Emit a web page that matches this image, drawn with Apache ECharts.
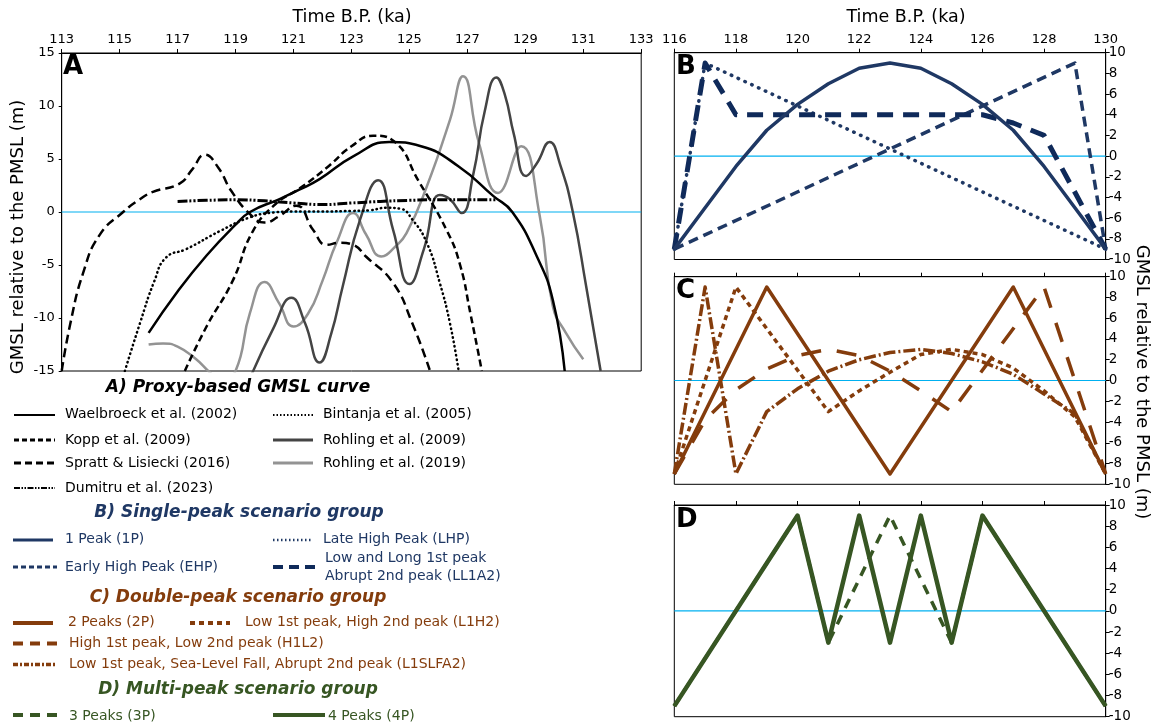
<!DOCTYPE html>
<html><head><meta charset="utf-8">
<script src="https://cdn.jsdelivr.net/npm/echarts@6/dist/echarts.min.js"></script>
<style>html,body{margin:0;padding:0;background:#fff}#c{width:1156px;height:726px}</style>
</head><body><div id="c"></div>
<script>
// ---------------- DATA ----------------
// Panel A: proxy-based GMSL curves  [time (ka B.P.), GMSL (m)]
const waelbroeck2002 = [[116,-11.4],[117,-7.5],[118,-4.1],[119,-1.2],[119.5,0],[120.5,1.2],[121.2,2.1],[121.9,3.1],[123.06,5.25],[124.3,6.6],[125.4,6.2],[126.7,4.3],[127.9,1.5],[128.55,0],[129.4,-4.2],[129.95,-8.3],[130.36,-15]];
const bintanja2005 = [[115.18,-15],[115.7,-10.5],[116.2,-6.5],[116.6,-4.3],[117.3,-3.5],[118.46,-1.8],[119.5,-0.5],[120.3,-0.05],[121,0.05],[122,0.05],[123,0.1],[123.6,0.15],[124.2,0.4],[124.7,0.3],[125.1,-0.7],[125.6,-2.9],[126.05,-6.7],[126.4,-10.5],[126.7,-15]];
const kopp2009 = [[117.25,-15],[118.0,-10.8],[118.9,-6.5],[119.6,-1.8],[120.4,0.8],[121.2,2.2],[122.2,4.3],[123.0,6.2],[123.75,7.2],[124.5,6.6],[125.3,3.0],[126.3,-1.8],[126.75,-5],[127.1,-9.5],[127.5,-15]];
const spratt2016 = [[113,-15],[113.3,-10.5],[113.74,-5.75],[114.3,-2.2],[115.12,0],[115.7,1.2],[116.15,1.9],[117.08,2.7],[117.5,4.0],[117.94,5.4],[118.4,4.2],[118.85,2.0],[119.5,-0.2],[120.0,-1.0],[120.5,-0.4],[121.1,0.6],[121.68,-1.7],[122.14,-3.1],[122.6,-2.9],[123.06,-3.1],[123.5,-4.2],[124.44,-6.7],[125.1,-10.5],[125.7,-14.9]];
const rohling2009 = [[119.45,-16],[120.3,-11],[120.93,-8.1],[121.4,-10.5],[121.9,-14.2],[122.3,-11.5],[122.7,-7],[123.3,-0.7],[123.92,3.0],[124.44,-1.7],[125.0,-6.8],[125.5,-3.5],[126.05,1.6],[126.4,1.2],[126.8,-0.1],[127.2,3.5],[127.6,9.5],[128.0,12.7],[128.3,11],[128.6,7.4],[129.03,3.4],[129.4,4.6],[129.84,6.6],[130.2,4.5],[130.64,0],[131.1,-7],[131.6,-15]];
const rohling2019 = [[116,-12.5],[116.5,-12.4],[117,-12.7],[117.6,-13.8],[118.1,-15.1],[118.5,-16],[119.0,-15],[119.5,-9.5],[120.0,-6.6],[120.5,-8.6],[121.0,-10.8],[121.5,-9.6],[122.0,-6.5],[122.5,-2.8],[123.06,-0.1],[123.5,-2.1],[124.03,-4.2],[124.5,-3.3],[124.9,-2.0],[125.6,2.4],[126.4,8.7],[126.85,12.8],[127.4,6.5],[128.06,1.8],[128.86,6.2],[129.5,-0.4],[129.95,-8.9],[130.4,-11.4],[131.0,-13.9]];
const dumitru2023 = [[117,1.0],[118,1.1],[119,1.15],[120,1.05],[121,0.85],[122,0.7],[123,0.85],[124,1.0],[125,1.1],[126,1.15],[127,1.15],[128,1.15]];

// Panel B: single-peak scenarios
const onePeak = [[116,-9],[117,-5],[118,-1],[119,2.5],[120,5],[121,7],[122,8.5],[123,9],[124,8.5],[125,7],[126,5],[127,2.5],[128,-1],[129,-5],[130,-9]];
const lateHighPeak = [[116,-9],[117,9],[130,-9]];
const earlyHighPeak = [[116,-9],[129,9],[130,-9]];
const ll1a2 = [[116,-9],[117,9],[118,4],[126,4],[127,3.2],[128,2],[129,-3.5],[130,-9]];

// Panel C: double-peak scenarios
const twoPeaks = [[116,-9],[119,9],[123,-9],[127,9],[130,-9]];
const l1h2 = [[116,-9],[118,9],[119,5],[120,1],[121,-3],[122,-1],[123,0.8],[124,2.5],[125,3],[126,2.5],[127,1.2],[128,-1],[129,-3.5],[130,-9]];
const h1l2 = [[116,-9],[117,-3.8],[118,-0.9],[119,1.1],[120,2.4],[121,3],[122,2.4],[123,0.9],[124,-1],[125,-3],[128,9],[130,-9]];
const l1slfa2 = [[116,-9],[117,9],[118,-9],[119,-3],[120,-0.8],[121,0.9],[122,2.0],[123,2.7],[124,3],[125,2.6],[126,1.8],[127,0.6],[128,-1.3],[129,-3.2],[130,-9]];

// Panel D: multi-peak scenarios
const threePeaks = [[116,-9],[120,9],[121,-3],[123,9],[125,-3],[126,9],[130,-9]];
const fourPeaks = [[116,-9],[120,9],[121,-3],[122,9],[123,-3],[124,9],[125,-3],[126,9],[130,-9]];

// PMSL reference level (m)
const pmsl = 0;

// Axis settings
const axisA = {xmin:113, xmax:133, xstep:2, ymin:-15, ymax:15, ystep:5};
const axisBCD = {xmin:116, xmax:130, xstep:2, ymin:-10, ymax:10, ystep:2};

// Texts
const xTitle = 'Time B.P. (ka)';
const yTitle = 'GMSL relative to the PMSL (m)';
const panelLetters = ['A','B','C','D'];
const groupTitles = ['A) Proxy-based GMSL curve','B) Single-peak scenario group','C) Double-peak scenario group','D) Multi-peak scenario group'];

// ---------------- STYLES ----------------
const NAVY='#1f3864', BROWN='#843c0c', GREEN='#375623', ZERO='#00b0f0';
const FONT='"DejaVu Sans", Verdana, sans-serif';

const defs = [
  {name:'Rohling et al. (2019)', data:rohling2019, g:0, color:'#939393', width:2.5, type:'solid', smooth:0.5},
  {name:'Rohling et al. (2009)', data:rohling2009, g:0, color:'#444444', width:2.5, type:'solid', smooth:0.5},
  {name:'Bintanja et al. (2005)', data:bintanja2005, g:0, color:'#000', width:2.5, type:[0.5,4], cap:'round', smooth:0.5},
  {name:'Spratt & Lisiecki (2016)', data:spratt2016, g:0, color:'#000', width:2.5, type:[9,5], smooth:0.5},
  {name:'Kopp et al. (2009)', data:kopp2009, g:0, color:'#000', width:2.5, type:[7,4], smooth:0.5},
  {name:'Dumitru et al. (2023)', data:dumitru2023, g:0, color:'#000', width:3, type:[10,2,2,2,2,2], smooth:0.5},
  {name:'Waelbroeck et al. (2002)', data:waelbroeck2002, g:0, color:'#000', width:2.5, type:'solid', smooth:0.5},

  {name:'Early High Peak (EHP)', data:earlyHighPeak, g:1, color:NAVY, width:3.5, type:[10,6]},
  {name:'Late High Peak (LHP)', data:lateHighPeak, g:1, color:NAVY, width:3.5, type:[0.5,7], cap:'round'},
  {name:'Low and Long 1st peak Abrupt 2nd peak (LL1A2)', data:ll1a2, g:1, color:'#0f2a5a', width:5, type:[16,10]},
  {name:'1 Peak (1P)', data:onePeak, g:1, color:NAVY, width:3.5, type:'solid'},

  {name:'High 1st peak, Low 2nd peak (H1L2)', data:h1l2, g:2, color:BROWN, width:3.5, type:[20,16]},
  {name:'Low 1st peak, High 2nd peak (L1H2)', data:l1h2, g:2, color:BROWN, width:3.5, type:[5,4]},
  {name:'Low 1st peak, Sea-Level Fall, Abrupt 2nd peak (L1SLFA2)', data:l1slfa2, g:2, color:BROWN, width:3.5, type:[12,3,2,3]},
  {name:'2 Peaks (2P)', data:twoPeaks, g:2, color:BROWN, width:3.5, type:'solid'},

  {name:'4 Peaks (4P)', data:fourPeaks, g:3, color:GREEN, width:4.5, type:'solid'},
  {name:'3 Peaks (3P)', data:threePeaks, g:3, color:GREEN, width:3.5, type:[10,8]}
];

// ---------------- LAYOUT ----------------
const grids = [
  {left:61.7, top:53, width:579.5, height:318},
  {left:674.3, top:52.7, width:431.4, height:206.8},
  {left:674.3, top:276.7, width:431.4, height:207.6},
  {left:674.3, top:505, width:431.4, height:211.7}
];
const axesFor = i => i===0 ? axisA : axisBCD;

const series = [];
// zero (PMSL) reference line per panel, drawn first (underneath)
for (let g=0; g<4; g++) {
  const a = axesFor(g);
  series.push({type:'line', name:'PMSL'+g, data:[[a.xmin,pmsl],[a.xmax,pmsl]], xAxisIndex:g, yAxisIndex:g,
    symbol:'none', showSymbol:false, silent:true, z:2,
    lineStyle:{color:ZERO, width:1.2, type:'solid'}});
}
defs.forEach(d => series.push({
  type:'line', name:d.name, data:d.data, xAxisIndex:d.g, yAxisIndex:d.g,
  smooth:d.smooth || false, symbol:'none', showSymbol:false, clip:true,
  lineStyle:{color:d.color, width:d.width, type:d.type, cap:d.cap || 'butt', join:'round'},
  z: 3
}));

const xAxes = grids.map((gr,i) => {
  const a = axesFor(i);
  return {gridIndex:i, type:'value', position:'top', min:a.xmin, max:a.xmax, interval:a.xstep,
    axisLine:{show:true, onZero:false, lineStyle:{color:'#000', width:1}},
    axisTick:{show:true, length:4, lineStyle:{color:'#000'}},
    axisLabel:{show: i<=1, color:'#000', fontSize:13, fontFamily:FONT, margin:7},
    splitLine:{show:false}};
});
const yAxes = grids.map((gr,i) => {
  const a = axesFor(i);
  return {gridIndex:i, type:'value', position: i===0 ? 'left' : 'right', min:a.ymin, max:a.ymax, interval:a.ystep,
    axisLine:{show:true, onZero:false, lineStyle:{color:'#000', width:1}},
    axisTick:{show:true, length:i===0?3:4, lineStyle:{color:'#000'}},
    axisLabel:{color:'#000', fontSize:i===0?13:13.5, fontFamily:FONT, margin:i===0?7:3},
    splitLine:{show:false}};
});

// ---------------- GRAPHIC TEXT + LEGEND ----------------
const graphic = [];
function txt(x, y, text, opt) {
  opt = opt || {};
  graphic.push({type:'text', x:x, y:y, rotation:opt.rot || 0, z:10, silent:true,
    style:{text:text, fill:opt.color || '#000', font:opt.font || ('14px ' + FONT),
      align:opt.align || 'left', verticalAlign:'middle', textAlign:opt.align || 'left', textVerticalAlign:'middle'}});
}
function sample(x1, x2, y, def, w) {
  graphic.push({type:'line', z:10, silent:true, shape:{x1:x1, y1:y, x2:x2, y2:y},
    style:{stroke:def.color, lineWidth:w || def.width, lineDash: Array.isArray(def.type) ? def.type : null, lineCap:def.cap || 'butt'}});
}
const byName = n => defs.find(d => d.name === n);

// axis titles
txt(352, 17, xTitle, {font:'17.5px ' + FONT, align:'center'});
txt(906, 17, xTitle, {font:'17.5px ' + FONT, align:'center'});
txt(18, 237, yTitle, {font:'18px ' + FONT, align:'center', rot:Math.PI/2});
txt(1142, 382, yTitle, {font:'18px ' + FONT, align:'center', rot:-Math.PI/2});

// panel letters
const letterPos = [[63,67],[676,67],[676,291],[676,520]];
panelLetters.forEach((l,i) => txt(letterPos[i][0], letterPos[i][1], l, {font:'bold 26px ' + FONT}));

// legend group titles
const titleStyle = 'italic bold 17px ' + FONT;
txt(238, 388, groupTitles[0], {font:titleStyle, align:'center', color:'#000'});
txt(239, 513, groupTitles[1], {font:titleStyle, align:'center', color:NAVY});
txt(238, 598, groupTitles[2], {font:titleStyle, align:'center', color:BROWN});
txt(238, 690, groupTitles[3], {font:titleStyle, align:'center', color:GREEN});

// legend entries: [series name, lineX1, lineX2, lineY, textX, textY, sampleWidth, text colour]
const legendRows = [
  ['Waelbroeck et al. (2002)', 14, 55, 415, 65, 414, 2, '#000'],
  ['Kopp et al. (2009)', 14, 55, 440, 65, 440, 3, '#000'],
  ['Spratt & Lisiecki (2016)', 14, 55, 463, 65, 463, 3, '#000'],
  ['Dumitru et al. (2023)', 14, 55, 488, 65, 488, 2, '#000'],
  ['Bintanja et al. (2005)', 273, 313, 415, 323, 414, 2, '#000'],
  ['Rohling et al. (2009)', 273, 313, 440, 323, 440, 3, '#000'],
  ['Rohling et al. (2019)', 273, 313, 463, 323, 463, 3, '#000'],
  ['1 Peak (1P)', 13, 53, 540, 65, 539, 3, NAVY],
  ['Early High Peak (EHP)', 13, 57, 567, 65, 567, 3, NAVY],
  ['Late High Peak (LHP)', 273, 313, 540, 323, 539, 2.5, NAVY],
  ['2 Peaks (2P)', 13, 53, 623, 68, 622.5, 4, BROWN],
  ['Low 1st peak, High 2nd peak (L1H2)', 190, 230, 623, 245, 622.5, 4, BROWN],
  ['High 1st peak, Low 2nd peak (H1L2)', 13, 57, 643.5, 69, 643.5, 4, BROWN],
  ['Low 1st peak, Sea-Level Fall, Abrupt 2nd peak (L1SLFA2)', 13, 57, 664.5, 69, 664, 3.5, BROWN],
  ['3 Peaks (3P)', 13, 57, 715, 69, 716, 4, GREEN],
  ['4 Peaks (4P)', 273, 325, 715, 328, 716, 4, GREEN]
];
const legendDash = {
  'Kopp et al. (2009)':[5,3], 'Spratt & Lisiecki (2016)':[7,4], 'Dumitru et al. (2023)':[6,1.5,1.5,1.5,1.5,1.5],
  'Bintanja et al. (2005)':[1.5,2], 'Early High Peak (EHP)':[5,3],
  'Late High Peak (LHP)':[1.5,2.5], 'Low 1st peak, High 2nd peak (L1H2)':[5,4],
  'High 1st peak, Low 2nd peak (H1L2)':[10,7], 'Low 1st peak, Sea-Level Fall, Abrupt 2nd peak (L1SLFA2)':[5,2,2,2],
  '3 Peaks (3P)':[10,7]
};
legendRows.forEach(r => {
  const d = Object.assign({}, byName(r[0]));
  d.type = legendDash[r[0]] || 'solid'; d.cap = 'butt';
  sample(r[1], r[2], r[3], d, r[6]);
  txt(r[4], r[5], r[0], {color:r[7], font:'14px ' + FONT});
});
// two-line legend entry for LL1A2
const ll = byName('Low and Long 1st peak Abrupt 2nd peak (LL1A2)');
sample(273, 315, 567, Object.assign({}, ll, {type:[10,6]}), 4);
txt(325, 558, 'Low and Long 1st peak', {color:NAVY});
txt(325, 576.5, 'Abrupt 2nd peak (LL1A2)', {color:NAVY});

// ---------------- CHART ----------------
const chart = echarts.init(document.getElementById('c'), null, {renderer:'canvas'});
chart.setOption({
  animation:false,
  backgroundColor:'#fff',
  textStyle:{fontFamily:FONT, color:'#000'},
  grid: grids.map(g => Object.assign({show:true, borderColor:'#000', borderWidth:1, backgroundColor:'transparent', containLabel:false, outerBoundsMode:'none'}, g)),
  xAxis:xAxes, yAxis:yAxes, series:series, graphic:graphic
});
</script></body></html>
